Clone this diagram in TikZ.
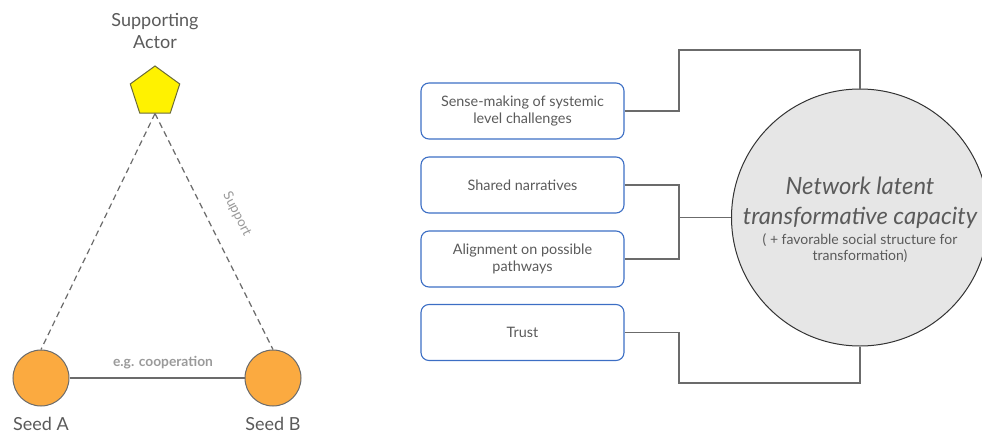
\documentclass[tikz,border=0pt]{standalone}
\usepackage{fontspec}
\setmainfont{Lato}
\usetikzlibrary{shapes.geometric}

\definecolor{txtgray}{HTML}{5A5A5A}
\definecolor{lightlbl}{HTML}{9A9A9A}
\definecolor{seedorange}{HTML}{FBAA40}
\definecolor{boxblue}{HTML}{3C6EC4}
\definecolor{linegray}{HTML}{6B6B6B}
\definecolor{capfill}{HTML}{E6E6E6}
\definecolor{actorline}{HTML}{6B6B3A}

\tikzset{
  seed/.style={circle, draw=linegray, fill=seedorange, minimum size=56pt, inner sep=0pt, line width=1pt},
  actor/.style={regular polygon, regular polygon sides=5, draw=actorline, fill=yellow, minimum size=52pt, inner sep=0pt, line width=1pt},
  factor/.style={draw=boxblue, rounded corners=8pt, minimum width=203pt, minimum height=56pt, align=center, text=txtgray, font=\fontsize{14.4}{17.5}\selectfont, line width=1.1pt},
  link/.style={draw=linegray, line width=1.3pt},
  lbl/.style={text=txtgray, font=\fontsize{18}{22}\selectfont, align=center}
}

\begin{document}
\begin{tikzpicture}[x=1pt,y=-1pt]
  \useasboundingbox (0,0) rectangle (982,436);

  % triangle of actors
  \node[actor] (actor) at (155,92) {};
  \node[seed] (seedA) at (41,378) {};
  \node[seed] (seedB) at (273,378) {};
  \node[lbl] (actorlbl) at (155,31) {Supporting\\Actor};
  \node[lbl] (seedAlbl) at (41,424) {Seed A};
  \node[lbl] (seedBlbl) at (273,424) {Seed B};

  \begin{scope}[linegray, line width=1.2pt]
    \draw[dash pattern=on 6pt off 4pt] (actor.south) -- (seedA.north);
    \draw[dash pattern=on 6pt off 4pt] (actor.south) -- (seedB.north);
    \draw (seedA) -- (seedB);
  \end{scope}
  \node[text=lightlbl, font=\fontsize{13.8}{16}\selectfont\bfseries] (coop) at (163,363) {e.g. cooperation};
  \node[text=lightlbl, font=\fontsize{13.5}{16}\selectfont, rotate=-63] (support) at (237,214) {Support};

  % factors
  \node[factor] (f1) at (522.5,111) {Sense-making of systemic\\level challenges};
  \node[factor] (f2) at (522.5,185) {Shared narratives};
  \node[factor] (f3) at (522.5,259) {Alignment on possible\\pathways};
  \node[factor] (f4) at (522.5,332.5) {Trust};

  % capacity
  \node[circle, draw=black!80, fill=capfill, minimum size=257pt, inner sep=0pt, line width=1pt] (cap) at (860,217.5) {};
  \node[text=txtgray, font=\fontsize{23.8}{30}\selectfont\itshape, align=center] (captitle) at (860,203) {Network latent\\transformative capacity};
  \node[text=txtgray, font=\fontsize{14}{16}\selectfont, align=center] (capnote) at (860,248) {( + favorable social structure for\\transformation)};

  \coordinate (join) at (679,217.5);
  \begin{scope}[link]
    \draw (f1.east) -| (679,50) -| (cap.north);
    \draw (f2.east) -| (join);
    \draw (f3.east) -| (join);
    \draw (join) -- (cap.west);
    \draw (f4.east) -| (679,383) -| (cap.south);
  \end{scope}
\end{tikzpicture}
\end{document}
